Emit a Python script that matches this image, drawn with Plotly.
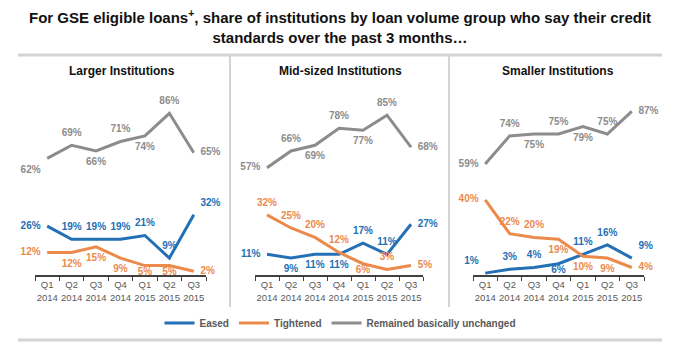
import plotly.graph_objects as go

quarters = ["Q1<br>2014", "Q2<br>2014", "Q3<br>2014", "Q4<br>2014", "Q1<br>2015", "Q2<br>2015", "Q3<br>2015"]
panel_titles = ["Larger Institutions", "Mid-sized Institutions", "Smaller Institutions"]
series_names = ["Eased", "Tightened", "Remained basically unchanged"]

larger_eased = [26, 19, 19, 19, 21, 9, 32]
larger_tightened = [12, 12, 15, 9, 5, 5, 2]
larger_unchanged = [62, 69, 66, 71, 74, 86, 65]

mid_eased = [11, 9, 11, 11, 17, 11, 27]
mid_tightened = [32, 25, 20, 12, 6, 3, 5]
mid_unchanged = [57, 66, 69, 78, 77, 85, 68]

smaller_eased = [1, 3, 4, 6, 11, 16, 9]
smaller_tightened = [40, 22, 20, 19, 10, 9, 4]
smaller_unchanged = [59, 74, 75, 75, 79, 75, 87]

colors = ["#2370B6", "#EC8A4C", "#8C8C8C"]

TC, BC, ML, MR, BL, BR, TR = "top center", "bottom center", "middle left", "middle right", "bottom left", "bottom right", "top right"
positions = [
    [  # larger
        [ML, TC, TC, TC, TC, TC, TR],
        [ML, BC, BC, BC, BC, BC, MR],
        [BL, TC, BC, TC, BC, TC, MR],
    ],
    [  # mid
        [ML, BC, BC, BC, TC, TC, MR],
        [TC, TC, TC, TC, BC, TC, MR],
        [ML, TC, BC, TC, BC, TC, MR],
    ],
    [  # smaller
        ["top left", TC, TC, BC, TC, TC, TR],
        [ML, TC, TC, BC, BC, BC, MR],
        [ML, TC, BC, TC, BC, TC, MR],
    ],
]

panels = [
    [larger_eased, larger_tightened, larger_unchanged],
    [mid_eased, mid_tightened, mid_unchanged],
    [smaller_eased, smaller_tightened, smaller_unchanged],
]

W, H = 680, 355
x_domains = [[35 / W, 206 / W], [255 / W, 423 / W], [473 / W, 644 / W]]
y_domain = [(H - 275) / H, (H - 87) / H]
FONT = "Liberation Sans, Arial"


def label_pad(vals, pos):
    # invisible marker size controls label offset; labels hugging the axis sit closer to the line
    return [2 if (pp == BC and v <= 8) else 9 for v, pp in zip(vals, pos)]


fig = go.Figure()
for p, data in enumerate(panels):
    axn = "" if p == 0 else str(p + 1)
    for s, vals in enumerate(data):
        fig.add_trace(go.Scatter(
            x=quarters, y=vals, mode="lines",
            name=series_names[s], legendgroup=series_names[s], showlegend=(p == 0),
            line=dict(color=colors[s], width=3),
            xaxis="x" + axn, yaxis="y" + axn, hoverinfo="skip",
        ))
        fig.add_trace(go.Scatter(
            x=quarters, y=vals, mode="markers+text",
            name=series_names[s], legendgroup=series_names[s], showlegend=False,
            marker=dict(size=label_pad(vals, positions[p][s]), color=colors[s], opacity=0),
            text=[f"{v}%" for v in vals],
            textposition=positions[p][s],
            textfont=dict(family=FONT, size=10, color=colors[s], weight="bold"),
            xaxis="x" + axn, yaxis="y" + axn, cliponaxis=False, hoverinfo="skip",
        ))

layout = dict(
    width=W, height=H,
    margin=dict(l=0, r=0, t=0, b=0),
    paper_bgcolor="white", plot_bgcolor="white",
    font=dict(family=FONT, color="#595959"),
    showlegend=True,
    legend=dict(orientation="h", x=0.5, xanchor="center", y=(H - 323) / H, yanchor="middle",
                font=dict(size=10, color="#595959", weight="bold"),
                tracegroupgap=0, bgcolor="rgba(0,0,0,0)"),
)
for p in range(3):
    axn = "" if p == 0 else str(p + 1)
    layout["xaxis" + axn] = dict(
        domain=x_domains[p], anchor="y" + axn, type="category",
        range=[-0.5, 6.5], showgrid=False, zeroline=False,
        showline=True, linecolor="#404040", linewidth=1.5,
        ticks="outside", tickson="boundaries", ticklen=4, tickcolor="#404040",
        tickangle=0,
        tickfont=dict(size=9.5, color="#595959"),
    )
    layout["yaxis" + axn] = dict(
        domain=y_domain, anchor="x" + axn, range=[0, 100],
        visible=False, showgrid=False, zeroline=False,
    )
fig.update_layout(**layout)

title_text = "For GSE eligible loans<sup>+</sup>, share of institutions by loan volume group who say their credit<br>standards over the past 3 months\u2026"
fig.add_annotation(text=title_text, xref="paper", yref="paper", x=0.5, y=(H - 26) / H,
                   showarrow=False, xanchor="center", yanchor="middle",
                   font=dict(size=15, color="#111111", weight="bold", family=FONT))

title_x = [122, 340, 558]
for p in range(3):
    fig.add_annotation(text=panel_titles[p], xref="paper", yref="paper", x=title_x[p] / W, y=(H - 71) / H,
                       showarrow=False, xanchor="center", yanchor="middle",
                       font=dict(size=12, color="#111111", weight="bold", family=FONT))

border = "#D4D4D4"
shapes = [
    dict(type="line", xref="paper", yref="paper", x0=18 / W, x1=662 / W, y0=(H - 55) / H, y1=(H - 55) / H,
         line=dict(color=border, width=3)),
    dict(type="line", xref="paper", yref="paper", x0=18 / W, x1=662 / W, y0=(H - 340) / H, y1=(H - 340) / H,
         line=dict(color=border, width=3)),
    dict(type="line", xref="paper", yref="paper", x0=230 / W, x1=230 / W, y0=(H - 307) / H, y1=(H - 55) / H,
         line=dict(color=border, width=2)),
    dict(type="line", xref="paper", yref="paper", x0=449 / W, x1=449 / W, y0=(H - 307) / H, y1=(H - 55) / H,
         line=dict(color=border, width=2)),
]
fig.update_layout(shapes=shapes)

fig.write_html("out.html", config={"displayModeBar": False},
               post_script="document.body.style.margin='0';document.body.style.padding='0';")
